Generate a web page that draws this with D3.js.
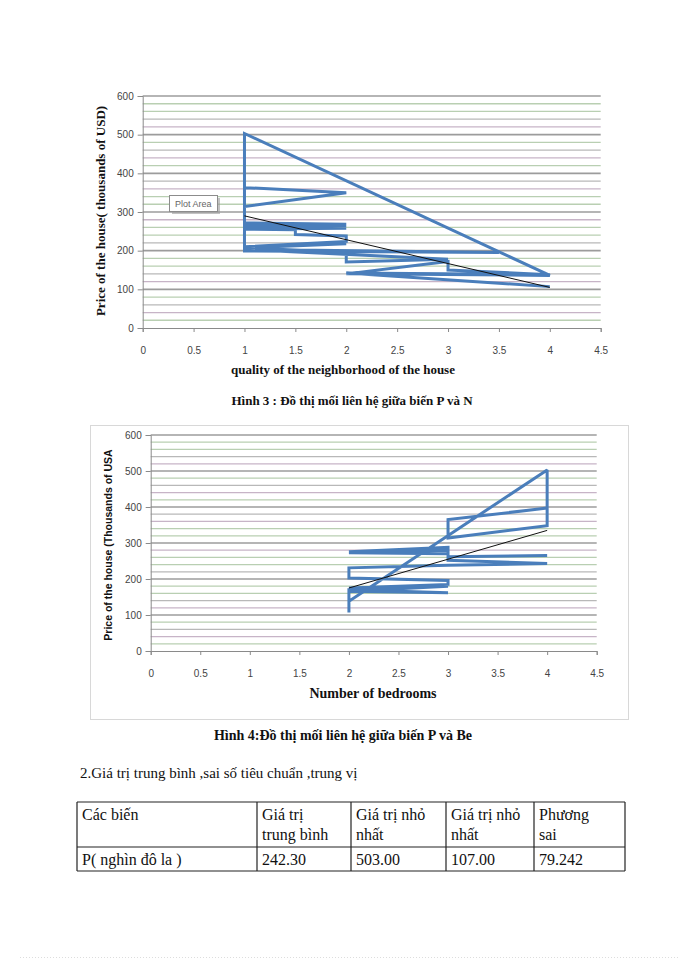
<!DOCTYPE html>
<html><head><meta charset="utf-8">
<script src="https://cdn.jsdelivr.net/npm/d3@7/dist/d3.min.js"></script>
<style>body{margin:0;background:#fff}</style>
</head><body><svg id="c" width="700" height="960"></svg>
<script>
// ---------- data ----------
const xTicks = [0, 0.5, 1, 1.5, 2, 2.5, 3, 3.5, 4, 4.5];
const yTicks = [0, 100, 200, 300, 400, 500, 600];
// Chart 1: price vs neighbourhood quality (points in data order)
const nValues  = [1, 2, 1, 1, 2, 1, 2, 1, 2, 1, 1.5, 1.5, 2, 2, 1, 2, 1, 2, 2, 2, 3, 1, 3.5, 1, 1, 4, 2, 3, 3, 4, 2, 4];
const pValuesN = [363, 350, 314, 272, 268, 266, 265, 261, 258, 256, 254, 242, 238, 224, 210, 218, 207, 196, 186, 171, 178, 203, 195, 199, 503, 136, 140, 172, 150, 138, 142, 107];
// Chart 2: price vs number of bedrooms (points in data order)
const beValues  = [4, 3, 3, 2, 3, 2, 3, 3, 4, 3, 2, 2, 3, 3, 2, 3, 2, 3, 2, 2, 2, 4, 4, 3, 3, 4];
const pValuesBe = [265, 262, 288, 276, 280, 273, 270, 252, 243, 238, 231, 203, 196, 185, 175, 180, 166, 162, 170, 107, 138, 503, 348, 314, 365, 397];
// linear trend lines
const trendNx = [1, 4],  trendNy = [290, 105];
const trendBex = [2, 4], trendBey = [175, 335];

const chart1Labels = { x: "quality of the neighborhood of the house", y: "Price of the house( thousands of USD)" };
const chart2Labels = { x: "Number of bedrooms", y: "Price of the house (Thousands of  USA" };
const captions = ["Hình 3 : Đồ thị mối liên hệ giữa biến P và N", "Hình 4:Đồ thị mối liên hệ giữa biến P và Be"];
const sectionTitle = "2.Giá trị trung bình ,sai số tiêu chuẩn ,trung vị";
const tableHeader = [["Các biến"], ["Giá trị", "trung bình"], ["Giá trị nhỏ", "nhất"], ["Giá trị nhỏ", "nhất"], ["Phương", "sai"]];
const tableRow = ["P( nghìn đô la )", "242.30", "503.00", "107.00", "79.242"];

// ---------- drawing ----------
const svg = d3.select("#c");
svg.append("rect").attr("width", 700).attr("height", 960).attr("fill", "#fff");

const SERIF = "'Liberation Serif','Times New Roman',serif";
const SANS = "'Liberation Sans',Arial,sans-serif";
const gridColors = ["#b9cfb2", "#c7b4c7", "#b8b8b8", "#b9cfb2"];

function drawChart(o) {
  const x = d3.scaleLinear().domain([0, 4.5]).range([o.left, o.right]);
  const y = d3.scaleLinear().domain([0, 600]).range([o.bottom, o.top]);
  const g = svg.append("g");

  // gridlines every 20, major every 100
  const gv = d3.range(20, 601, 20);
  g.selectAll("line.grid").data(gv).join("line")
    .attr("x1", o.left).attr("x2", o.right)
    .attr("y1", d => y(d)).attr("y2", d => y(d))
    .attr("stroke", (d, i) => d % 100 === 0 ? "#9c9c9c" : gridColors[(i) % 4])
    .attr("stroke-width", d => d % 100 === 0 ? 1.6 : 1.3);

  const ya = g.append("g").attr("transform", `translate(${o.left},0)`)
    .call(d3.axisLeft(y).tickValues(yTicks).tickFormat(d => String(d)).tickSize(5).tickPadding(4));
  const xa = g.append("g").attr("transform", `translate(0,${o.bottom})`)
    .call(d3.axisBottom(x).tickValues(xTicks).tickFormat(d => String(d)).tickSize(4).tickPadding(15));
  [ya, xa].forEach(a => {
    a.select(".domain").attr("stroke", "#8a8a8a");
    a.selectAll(".tick line").attr("stroke", "#8a8a8a");
    a.selectAll("text").attr("font-family", SANS).attr("font-size", 10).attr("fill", "#444");
  });

  // series polyline
  const line = d3.line().x(d => x(d[0])).y(d => y(d[1]));
  g.append("path").datum(d3.zip(o.xs, o.ys)).attr("d", line)
    .attr("fill", "none").attr("stroke", "#4a7ebb").attr("stroke-width", 3)
    .attr("stroke-linejoin", "miter").attr("stroke-miterlimit", 2);
  // trend line
  g.append("path").datum(d3.zip(o.tx, o.ty)).attr("d", line)
    .attr("fill", "none").attr("stroke", "#111").attr("stroke-width", 1);

  // titles
  g.append("text").attr("x", o.xTitleX).attr("y", o.xTitleY).attr("text-anchor", "middle")
    .attr("font-family", SERIF).attr("font-weight", "bold").attr("font-size", o.xTitleSize)
    .attr("fill", "#111").text(o.xTitle);
  g.append("text").attr("transform", `translate(${o.yTitleX},${o.yTitleY}) rotate(-90)`)
    .attr("text-anchor", "middle").attr("font-family", o.yTitleFont).attr("font-weight", "bold")
    .attr("font-size", o.yTitleSize).attr("fill", "#111").text(o.yTitle);
}

drawChart({
  left: 142.7, right: 600.7, top: 96, bottom: 328,
  xs: nValues, ys: pValuesN, tx: trendNx, ty: trendNy,
  xTitle: chart1Labels.x, xTitleX: 343, xTitleY: 374, xTitleSize: 13,
  yTitle: chart1Labels.y, yTitleX: 105, yTitleY: 211, yTitleSize: 13, yTitleFont: SERIF
});

// "Plot Area" tooltip
svg.append("rect").attr("x", 172).attr("y", 198).attr("width", 48).attr("height", 16).attr("fill", "#9a9a9a").attr("opacity", 0.6);
svg.append("rect").attr("x", 169.5).attr("y", 195.5).attr("width", 48).attr("height", 16)
  .attr("fill", "#fff").attr("stroke", "#8c8c8c");
svg.append("text").attr("x", 175).attr("y", 207).attr("font-family", SANS).attr("font-size", 9)
  .attr("fill", "#666").text("Plot Area");

svg.append("text").attr("x", 352).attr("y", 405).attr("text-anchor", "middle")
  .attr("font-family", SERIF).attr("font-weight", "bold").attr("font-size", 13).attr("fill", "#111")
  .text(captions[0]);

// chart 2 frame
svg.append("rect").attr("x", 90.5).attr("y", 425.5).attr("width", 538).attr("height", 294)
  .attr("fill", "none").attr("stroke", "#b0b0b0").attr("stroke-dasharray", "1,1");

drawChart({
  left: 150.7, right: 596.7, top: 435, bottom: 651,
  xs: beValues, ys: pValuesBe, tx: trendBex, ty: trendBey,
  xTitle: chart2Labels.x, xTitleX: 373, xTitleY: 698, xTitleSize: 14,
  yTitle: chart2Labels.y, yTitleX: 112, yTitleY: 545, yTitleSize: 10.5, yTitleFont: SANS
});

svg.append("text").attr("x", 343).attr("y", 740).attr("text-anchor", "middle")
  .attr("font-family", SERIF).attr("font-weight", "bold").attr("font-size", 14).attr("fill", "#111")
  .text(captions[1]);

svg.append("text").attr("x", 80).attr("y", 778)
  .attr("font-family", SERIF).attr("font-size", 15).attr("fill", "#111").text(sectionTitle);

// table
const colX = [77, 257, 351, 446, 534, 625];
const rowY = [802, 847, 871];
const tg = svg.append("g");
colX.forEach(cx => tg.append("line").attr("x1", cx).attr("x2", cx).attr("y1", rowY[0]).attr("y2", rowY[2]).attr("stroke", "#222").attr("stroke-width", 1.2));
rowY.forEach(ry => tg.append("line").attr("x1", colX[0]).attr("x2", colX[5]).attr("y1", ry).attr("y2", ry).attr("stroke", "#222").attr("stroke-width", 1.2));
tableHeader.forEach((lines, i) => {
  lines.forEach((t, j) => tg.append("text").attr("x", colX[i] + 5).attr("y", 820 + j * 20)
    .attr("font-family", SERIF).attr("font-size", 16).attr("fill", "#111").text(t));
});
tableRow.forEach((t, i) => tg.append("text").attr("x", colX[i] + 5).attr("y", 865)
  .attr("font-family", SERIF).attr("font-size", 16).attr("fill", "#111").text(t));

// faint page edge at bottom
svg.append("line").attr("x1", 20).attr("x2", 680).attr("y1", 957.5).attr("y2", 957.5)
  .attr("stroke", "#ddd").attr("stroke-dasharray", "1,2");
</script></body></html>
